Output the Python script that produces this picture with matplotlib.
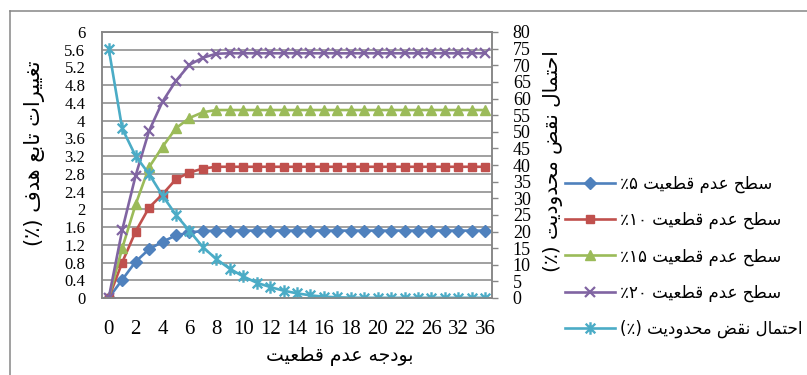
import matplotlib
matplotlib.use("Agg")
import matplotlib.pyplot as plt
from matplotlib.lines import Line2D
from matplotlib.path import Path

# budget of uncertainty (category axis, every other one is labelled)
budget = [0, 1, 2, 3, 4, 5, 6, 7, 8, 9, 10, 11, 12, 13, 14, 15, 16, 17, 18,
          19, 20, 21, 22, 24, 26, 28, 32, 34, 36]

# objective change (%) for each uncertainty level
obj_5 = [0, 0.41, 0.82, 1.10, 1.27, 1.41, 1.48, 1.51] + [1.52] * 21
obj_10 = [0, 0.80, 1.50, 2.04, 2.34, 2.68, 2.83, 2.92, 2.96] + [2.96] * 20
obj_15 = [0, 1.12, 2.11, 2.95, 3.41, 3.83, 4.06, 4.19, 4.24] + [4.24] * 20
obj_20 = [0, 1.53, 2.76, 3.77, 4.43, 4.90, 5.26, 5.42, 5.51] + [5.52] * 20

# constraint violation probability (%)
violation = [75, 51, 42.7, 37.3, 30.8, 25, 20.2, 15.3, 11.7, 8.8, 6.5, 4.6,
             3.3, 2.2, 1.4, 0.8, 0.4, 0.2, 0.1] + [0.05] * 10

series_labels = ["سطح عدم قطعیت ۵٪", "سطح عدم قطعیت ۱۰٪",
                 "سطح عدم قطعیت ۱۵٪", "سطح عدم قطعیت ۲۰٪"]
violation_label = "احتمال نقض محدودیت (٪)"
xlabel = "بودجه عدم قطعیت"
ylabel_left = "تغییرات تابع هدف (٪)"
ylabel_right = "احتمال نقض محدودیت (٪)"

# contextual forms: isolated, final, initial, medial
FORMS = {
    "ا": ("\uFE8D", "\uFE8E", None, None),
    "ب": ("\uFE8F", "\uFE90", "\uFE91", "\uFE92"),
    "ت": ("\uFE95", "\uFE96", "\uFE97", "\uFE98"),
    "ج": ("\uFE9D", "\uFE9E", "\uFE9F", "\uFEA0"),
    "ح": ("\uFEA1", "\uFEA2", "\uFEA3", "\uFEA4"),
    "د": ("\uFEA9", "\uFEAA", None, None),
    "ر": ("\uFEAD", "\uFEAE", None, None),
    "س": ("\uFEB1", "\uFEB2", "\uFEB3", "\uFEB4"),
    "ض": ("\uFEBD", "\uFEBE", "\uFEBF", "\uFEC0"),
    "ط": ("\uFEC1", "\uFEC2", "\uFEC3", "\uFEC4"),
    "ع": ("\uFEC9", "\uFECA", "\uFECB", "\uFECC"),
    "غ": ("\uFECD", "\uFECE", "\uFECF", "\uFED0"),
    "ف": ("\uFED1", "\uFED2", "\uFED3", "\uFED4"),
    "ق": ("\uFED5", "\uFED6", "\uFED7", "\uFED8"),
    "ل": ("\uFEDD", "\uFEDE", "\uFEDF", "\uFEE0"),
    "م": ("\uFEE1", "\uFEE2", "\uFEE3", "\uFEE4"),
    "ن": ("\uFEE5", "\uFEE6", "\uFEE7", "\uFEE8"),
    "ه": ("\uFEE9", "\uFEEA", "\uFEEB", "\uFEEC"),
    "و": ("\uFEED", "\uFEEE", None, None),
    "ی": ("\uFEEF", "\uFEF0", "\uFEF3", "\uFEF4"),
}
DIGITS = set("۰۱۲۳۴۵۶۷۸۹0123456789")
MIRROR = {"(": ")", ")": "("}


def fa(text):
    # join the letters, then lay the line out right to left
    shaped = []
    for i, ch in enumerate(text):
        if ch not in FORMS:
            shaped.append(ch)
            continue
        iso, fin, ini, med = FORMS[ch]
        prev = text[i - 1] if i > 0 else ""
        nxt = text[i + 1] if i + 1 < len(text) else ""
        jp = prev in FORMS and FORMS[prev][2] is not None
        jn = nxt in FORMS and ini is not None
        if jp and jn:
            shaped.append(med)
        elif jp:
            shaped.append(fin)
        elif jn:
            shaped.append(ini)
        else:
            shaped.append(iso)
    runs = []
    for ch in shaped:
        isnum = ch in DIGITS
        if runs and runs[-1][0] == isnum:
            runs[-1][1].append(ch)
        else:
            runs.append((isnum, [ch]))
    out = ""
    for isnum, chars in reversed(runs):
        if isnum:
            out += "".join(chars)
        else:
            out += "".join(MIRROR.get(c, c) for c in reversed(chars))
    return out


W, H = 807, 375
fig = plt.figure(figsize=(W / 100, H / 100), dpi=100)
serif = "Liberation Serif"
arab = "DejaVu Sans"

ax = fig.add_axes([102 / W, 1 - 298 / H, 390 / W, 266 / H])
ax2 = ax.twinx()

x = list(range(len(budget)))
lw = 1.9
blue, red, green, purple, cyan = "#4F81BD", "#C0504D", "#9BBB59", "#8064A2", "#4BACC6"

ax.plot(x, obj_5, color=blue, lw=lw, marker="D", ms=6, label=fa(series_labels[0]))
ax.plot(x, obj_10, color=red, lw=lw, marker="s", ms=5.5, label=fa(series_labels[1]))
ax.plot(x, obj_15, color=green, lw=lw, marker="^", ms=7.5, label=fa(series_labels[2]))
ax.plot(x, obj_20, color=purple, lw=lw, marker="x", ms=7, mew=1.6,
        label=fa(series_labels[3]))

star = Path([(-1, -1), (1, 1), (-1, 1), (1, -1), (0, -1.3), (0, 1.3)],
            [Path.MOVETO, Path.LINETO, Path.MOVETO, Path.LINETO,
             Path.MOVETO, Path.LINETO])
ax2.plot(x, violation, color=cyan, lw=lw, marker=star, ms=9, mew=1.7,
         mfc="none", label=fa(violation_label))

ax.set_xlim(-0.5, len(budget) - 0.5)
ax.set_ylim(0, 6)
ax2.set_ylim(0, 80)

ax.set_xticks(x[::2])
ax.set_xticklabels([str(b) for b in budget[::2]], family=serif, fontsize=15)
yt = [round(0.4 * i, 1) for i in range(16)]
ax.set_yticks(yt)
ax.set_yticklabels([f"{v:g}" for v in yt], family=serif, fontsize=12)
ax2.set_yticks(range(0, 81, 5))
ax2.set_yticklabels([str(v) for v in range(0, 81, 5)], family=serif, fontsize=13)

grey = "#868686"
ax.grid(axis="y", color=grey, lw=1.1)
ax.set_axisbelow(True)
ax.tick_params(axis="x", length=0, pad=16)
ax.tick_params(axis="y", length=0, pad=12)
ax2.tick_params(axis="y", length=4, width=1, color=grey, pad=11)
for a in (ax, ax2):
    for s in a.spines.values():
        s.set_color(grey)
        s.set_linewidth(1.1)

fig.text(340 / W, 1 - 357 / H, fa(xlabel), family=arab, fontsize=13.5,
         ha="center", va="center")
fig.text(35 / W, 1 - 153 / H, fa(ylabel_left), family=arab, fontsize=15,
         ha="center", va="center", rotation=90)
fig.text(553 / W, 1 - 161 / H, fa(ylabel_right), family=arab, fontsize=14.5,
         ha="center", va="center", rotation=90)

handles = ax.get_lines() + ax2.get_lines()
fig.legend(handles, [h.get_label() for h in handles], loc="upper left",
           bbox_to_anchor=(565 / W, 1 - 175 / H), frameon=False,
           prop={"family": arab, "size": 12}, handlelength=3.0,
           handletextpad=0.3, labelspacing=1.07, borderpad=0, borderaxespad=0)

# chart area border
fig.add_artist(Line2D([10 / W, 10 / W], [0, 1 - 11 / H], color=grey, lw=1.1))
fig.add_artist(Line2D([10 / W, 1], [1 - 11 / H, 1 - 11 / H], color=grey, lw=1.1))

fig.savefig("out.png", dpi=100)
